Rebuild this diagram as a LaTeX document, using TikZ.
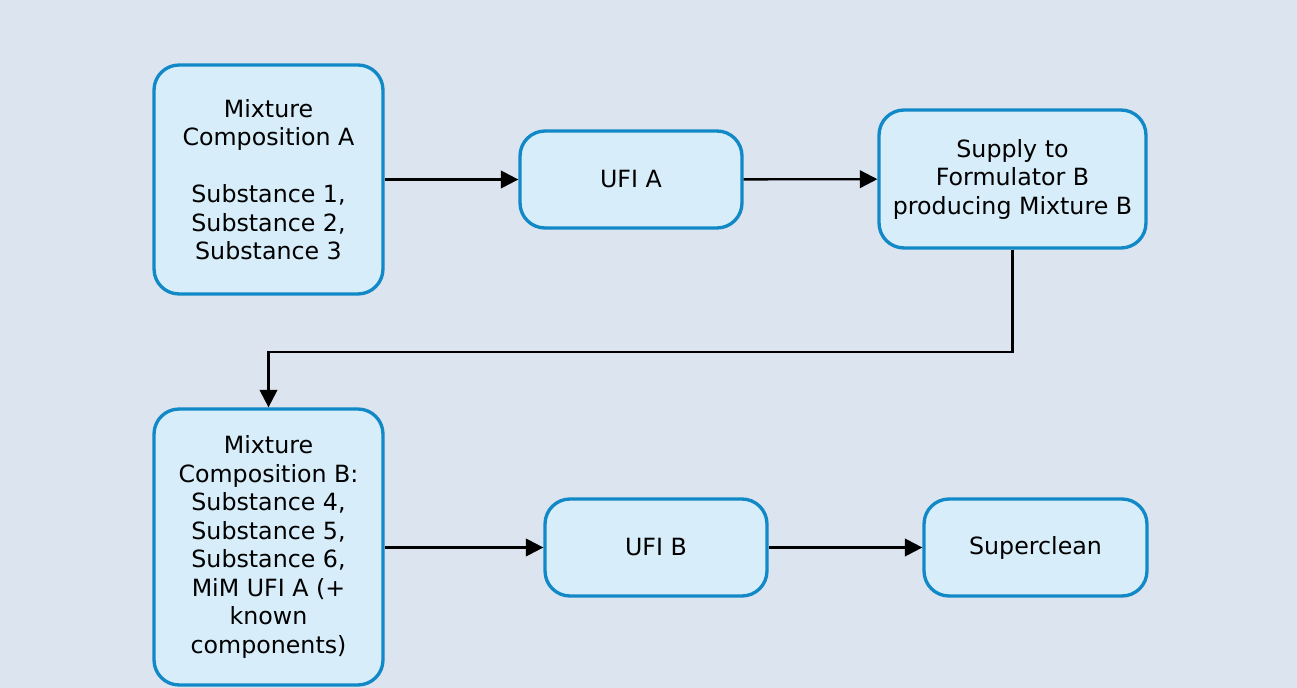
\documentclass[tikz,border=0pt]{standalone}
\usepackage{fontspec}
\setmainfont{DejaVu Sans}
\usetikzlibrary{arrows.meta}
\definecolor{bgcol}{HTML}{DCE4F0}
\definecolor{boxfill}{HTML}{D7EDFA}
\definecolor{boxline}{HTML}{1189C7}
\tikzset{
  stage/.style={draw=boxline, line width=1.9pt, fill=boxfill, rounded corners=0.5cm,
    align=center, font=\fontsize{13.5}{16.2}\selectfont, inner sep=0pt},
  flow/.style={line width=1.35pt, -{Triangle[length=10pt,width=10pt]}}
}
\begin{document}
\begin{tikzpicture}[x=0.02cm,y=-0.02cm]
\fill[bgcol] (0,0) rectangle (1297,688);
\useasboundingbox (0,0) rectangle (1297,688);
\node[stage, minimum width=4.58cm, minimum height=4.58cm] (mixA) at (268.5,179.5)
  {Mixture\\Composition A\\[16.2pt]Substance 1,\\Substance 2,\\Substance 3};
\node[stage, minimum width=4.44cm, minimum height=1.94cm] (ufiA) at (631,179.5) {UFI A};
\node[stage, minimum width=5.34cm, minimum height=2.76cm] (supply) at (1012.5,179)
  {Supply to\\Formulator B\\producing Mixture B};
\node[stage, minimum width=4.58cm, minimum height=5.52cm] (mixB) at (268.5,547)
  {Mixture\\Composition B:\\Substance 4,\\Substance 5,\\Substance 6,\\MiM UFI A (+\\known\\components)};
\node[stage, minimum width=4.44cm, minimum height=1.94cm] (ufiB) at (656,547.5) {UFI B};
\node[stage, minimum width=4.46cm, minimum height=1.94cm] (clean) at (1035.5,547.5) {Superclean};
\draw[flow] (mixA) -- (ufiA);
\draw[flow] (ufiA) -- (supply);
\draw[flow] (supply.south) |- (268.5,352) -- (mixB.north);
\draw[flow] (mixB.east |- ufiB) -- (ufiB);
\draw[flow] (ufiB) -- (clean);
\end{tikzpicture}
\end{document}
